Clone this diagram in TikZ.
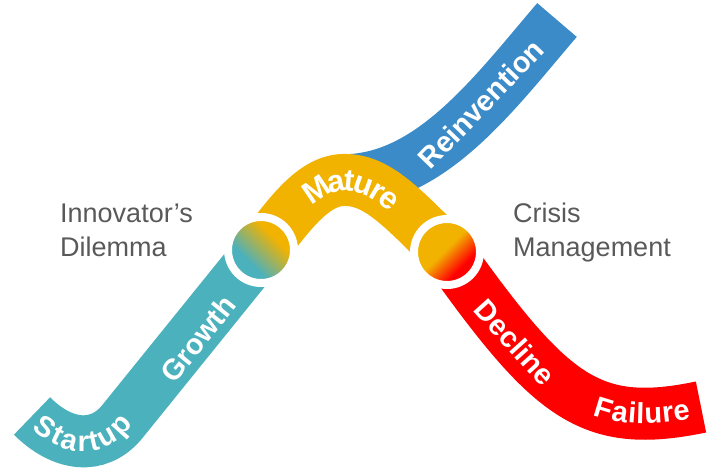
\documentclass[tikz,border=0pt]{standalone}
\usepackage{fontspec}
\setmainfont{Liberation Sans}
\usetikzlibrary{decorations.text}
\definecolor{cteal}{HTML}{4BB1BC}
\definecolor{cgold}{HTML}{F2B200}
\definecolor{cblue}{HTML}{3C8BC9}
\definecolor{cred}{HTML}{FF0000}
\definecolor{cgrey}{HTML}{595959}
\pgfdeclareverticalshading{hubAshade}{100bp}{color(0bp)=(cteal); color(37bp)=(cteal); color(64bp)=(cgold); color(100bp)=(cgold)}
\pgfdeclareverticalshading{hubBshade}{100bp}{color(0bp)=(cred); color(34bp)=(cred); color(52bp)=(cgold); color(100bp)=(cgold)}
\newcommand\bandfont{\fontsize{29}{29}\selectfont\bfseries}
\newcommand\bigbandfont{\fontsize{31}{31}\selectfont\bfseries}
\begin{document}
\begin{tikzpicture}[x=1pt,y=-1pt,
  band/.style={line width=52pt},
  bandtext/.style={font=\bandfont, text=white, inner sep=0pt},
  note/.style={font=\fontsize{27}{34}\selectfont, text=cgrey, align=left, inner sep=0pt, anchor=west},
  hub/.style={circle, inner sep=0pt, minimum size=66pt, draw=white, line width=8pt, shade}]
\useasboundingbox (0,0) rectangle (707,473);
\coordinate (h1) at (261,250);
\coordinate (h2) at (447,252);
\coordinate (tealend) at (32,416);
\coordinate (bluestart) at (351,180);
\coordinate (blueend) at (557,20);
\coordinate (redend) at (701,407);
% blue band
\draw[band, cblue] (bluestart) .. controls (435,175) and (497,90) .. (blueend);
% teal band
\draw[band, cteal, postaction={decorate, white, decoration={text along path,
   text={|\bandfont\color{white}|Startup}, text align={left, left indent=8pt}, raise=-10pt}}]
  (tealend) .. controls (62,446) and (98,451) .. (122,422) -- (h1);
% red band
\draw[band, cred, postaction={decorate, white, decoration={text along path,
   text={|\bandfont\color{white}|Failure}, text align={right, right indent=12pt}, raise=-10pt}}]
  (h2) .. controls (551,398) and (590,430) .. (redend);
% gold band
\draw[band, cgold, postaction={decorate, white, decoration={text along path,
   text={|\bigbandfont\color{white}|Mature}, text align=center, raise=-11pt}}]
  (h1) .. controls (285,222) and (310,181) .. (343,180) .. controls (376,179) and (400,205) .. (h2);
% hubs
\node[hub, shading=hubAshade, shading angle=-45] (hubA) at (h1) {};
\node[hub, shading=hubBshade, shading angle=45] (hubB) at (h2) {};
% band labels
\node[bandtext, rotate=51] (growth) at (198,339) {Growth};
\node[bandtext, rotate=46] (reinv) at (481,104) {Reinvention};
\node[bandtext, rotate=-48] (decline) at (515,342) {Decline};
% side notes
\node[note] (innov) at (60,230) {Innovator’s\\Dilemma};
\node[note] (crisis) at (513,233) {Crisis\\Management};
\end{tikzpicture}
\end{document}
